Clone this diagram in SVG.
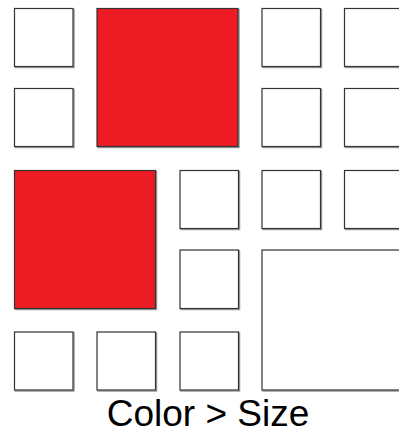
<svg xmlns="http://www.w3.org/2000/svg" width="399" height="434" viewBox="0 0 399 434">
<style>
.sh{fill:none;stroke:#9a9a9a;stroke-width:1.5}
.b{fill:#fff;stroke:#333;stroke-width:1.2}
.r{fill:#ED1C24;stroke:#333;stroke-width:1.2}
.t{font-family:"Liberation Sans",Arial,sans-serif;font-size:37px;fill:#000;text-anchor:middle}
</style>
<g id="shadows">
<rect class="sh" x="15.5" y="9.5" width="58.5" height="58"/>
<rect class="sh" x="98" y="9.5" width="141" height="138"/>
<rect class="sh" x="263" y="9.5" width="58.5" height="58"/>
<rect class="sh" x="345.5" y="9.5" width="58.5" height="58"/>
<rect class="sh" x="15.5" y="89.5" width="58.5" height="58"/>
<rect class="sh" x="263" y="89.5" width="58.5" height="58"/>
<rect class="sh" x="345.5" y="89.5" width="58.5" height="58"/>
<rect class="sh" x="15.5" y="171.5" width="141" height="138"/>
<rect class="sh" x="181" y="171.5" width="58.5" height="58"/>
<rect class="sh" x="263" y="171.5" width="58.5" height="58"/>
<rect class="sh" x="345.5" y="171.5" width="58.5" height="58"/>
<rect class="sh" x="181" y="251" width="58.5" height="58.5"/>
<rect class="sh" x="263" y="251" width="150" height="140"/>
<rect class="sh" x="15.5" y="333" width="58.5" height="58"/>
<rect class="sh" x="98" y="333" width="58.5" height="58"/>
<rect class="sh" x="181" y="333" width="58.5" height="58"/>
</g>
<g id="n1"><rect class="b" x="14.5" y="8.5" width="58.5" height="58"/></g>
<g id="n2"><rect class="r" x="97" y="8.5" width="141" height="138"/></g>
<g id="n3"><rect class="b" x="262" y="8.5" width="58.5" height="58"/></g>
<g id="n4"><rect class="b" x="344.5" y="8.5" width="58.5" height="58"/></g>
<g id="n5"><rect class="b" x="14.5" y="88.5" width="58.5" height="58"/></g>
<g id="n6"><rect class="b" x="262" y="88.5" width="58.5" height="58"/></g>
<g id="n7"><rect class="b" x="344.5" y="88.5" width="58.5" height="58"/></g>
<g id="n8"><rect class="r" x="14.5" y="170.5" width="141" height="138"/></g>
<g id="n9"><rect class="b" x="180" y="170.5" width="58.5" height="58"/></g>
<g id="n10"><rect class="b" x="262" y="170.5" width="58.5" height="58"/></g>
<g id="n11"><rect class="b" x="344.5" y="170.5" width="58.5" height="58"/></g>
<g id="n12"><rect class="b" x="180" y="250" width="58.5" height="58.5"/></g>
<g id="n13"><rect class="b" x="262" y="250" width="150" height="140"/></g>
<g id="n14"><rect class="b" x="14.5" y="332" width="58.5" height="58"/></g>
<g id="n15"><rect class="b" x="97" y="332" width="58.5" height="58"/></g>
<g id="n16"><rect class="b" x="180" y="332" width="58.5" height="58"/></g>
<g id="connectors"></g>
<text class="t" x="208" y="426">Color &gt; Size</text>
</svg>
